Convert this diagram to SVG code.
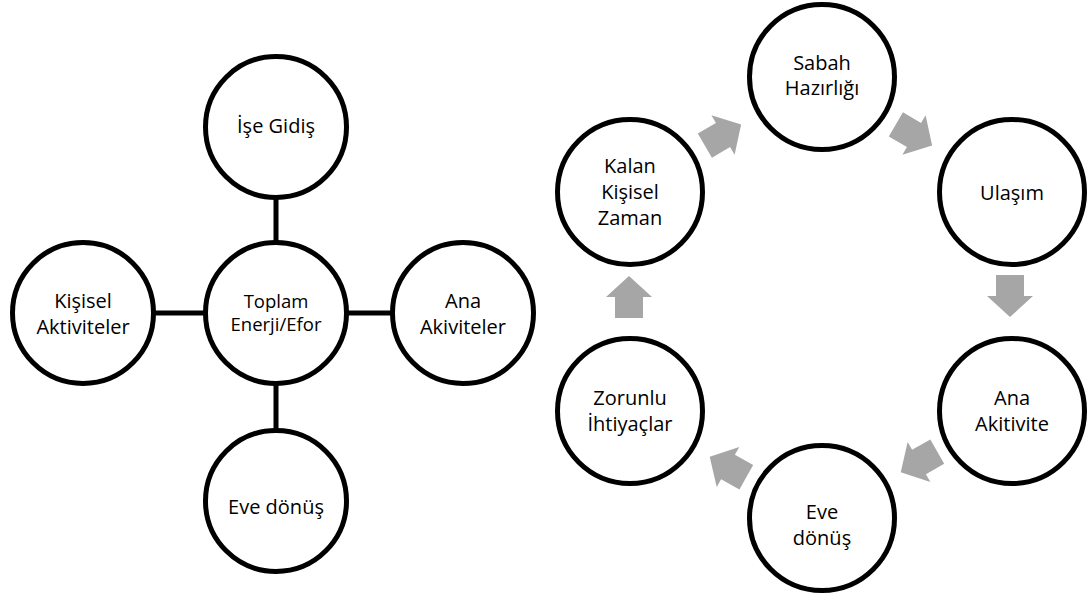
<svg xmlns="http://www.w3.org/2000/svg" width="1091" height="596" viewBox="0 0 1091 596">
  <defs>
    <style>
      .bg { fill: #ffffff; }
      .node { fill: #ffffff; stroke: #000000; stroke-width: 5; }
      .link { stroke: #000000; stroke-width: 5; fill: none; }
      .arrow { fill: #a6a6a6; stroke: none; }
      text { font-family: "Open Sans", "Noto Sans", "DejaVu Sans", sans-serif; font-size: 20px; fill: #000000; text-anchor: middle; }
      .sm { font-size: 18.5px; }
    </style>
    <path id="blk" d="M-21,-14 H0 V-23 L21,0 L0,23 V14 H-21 Z"/>
  </defs>
  <rect class="bg" x="0" y="0" width="1091" height="596"/>

  <!-- Left diagram connectors -->
  <g id="connectors">
    <line class="link" x1="276" y1="127" x2="276" y2="501"/>
    <line class="link" x1="83" y1="313" x2="463" y2="313"/>
  </g>

  <!-- Left diagram nodes -->
  <g id="node-ise-gidis">
    <circle class="node" cx="276" cy="127" r="70.5"/>
    <text x="276" y="133">İşe Gidiş</text>
  </g>
  <g id="node-toplam">
    <circle class="node" cx="276" cy="313" r="70.5"/>
    <text class="sm" x="276" y="308">Toplam</text>
    <text class="sm" x="276" y="331">Enerji/Efor</text>
  </g>
  <g id="node-kisisel-aktiviteler">
    <circle class="node" cx="83" cy="313" r="70.5"/>
    <text x="83" y="308">Kişisel</text>
    <text x="83" y="334">Aktiviteler</text>
  </g>
  <g id="node-ana-akiviteler">
    <circle class="node" cx="463" cy="313" r="70.5"/>
    <text x="463" y="308">Ana</text>
    <text x="463" y="334">Akiviteler</text>
  </g>
  <g id="node-eve-donus-left">
    <circle class="node" cx="276" cy="501" r="70.5"/>
    <text x="276" y="514">Eve dönüş</text>
  </g>

  <!-- Right cycle arrows -->
  <g id="cycle-arrows">
    <use href="#blk" class="arrow" transform="translate(723,135) rotate(-30.3)"/>
    <use href="#blk" class="arrow" transform="translate(914,135) rotate(30.3)"/>
    <use href="#blk" class="arrow" transform="translate(1010,296) rotate(90)"/>
    <use href="#blk" class="arrow" transform="translate(919,462) rotate(150.4)"/>
    <use href="#blk" class="arrow" transform="translate(728,467) rotate(209.4)"/>
    <use href="#blk" class="arrow" transform="translate(629,297) rotate(-90)"/>
  </g>

  <!-- Right cycle nodes -->
  <g id="node-sabah">
    <circle class="node" cx="822" cy="77" r="72.5"/>
    <text x="822" y="70">Sabah</text>
    <text x="822" y="95">Hazırlığı</text>
  </g>
  <g id="node-ulasim">
    <circle class="node" cx="1012" cy="192" r="72.5"/>
    <text x="1012" y="200">Ulaşım</text>
  </g>
  <g id="node-ana-akitivite">
    <circle class="node" cx="1012" cy="411" r="72.5"/>
    <text x="1012" y="405">Ana</text>
    <text x="1012" y="431">Akitivite</text>
  </g>
  <g id="node-eve-donus-right">
    <circle class="node" cx="822" cy="518" r="72.5"/>
    <text x="822" y="519">Eve</text>
    <text x="822" y="545">dönüş</text>
  </g>
  <g id="node-zorunlu">
    <circle class="node" cx="630" cy="411" r="72.5"/>
    <text x="630" y="405">Zorunlu</text>
    <text x="630" y="431">İhtiyaçlar</text>
  </g>
  <g id="node-kalan">
    <circle class="node" cx="630" cy="192" r="72.5"/>
    <text x="630" y="173">Kalan</text>
    <text x="630" y="199">Kişisel</text>
    <text x="630" y="225">Zaman</text>
  </g>
</svg>
